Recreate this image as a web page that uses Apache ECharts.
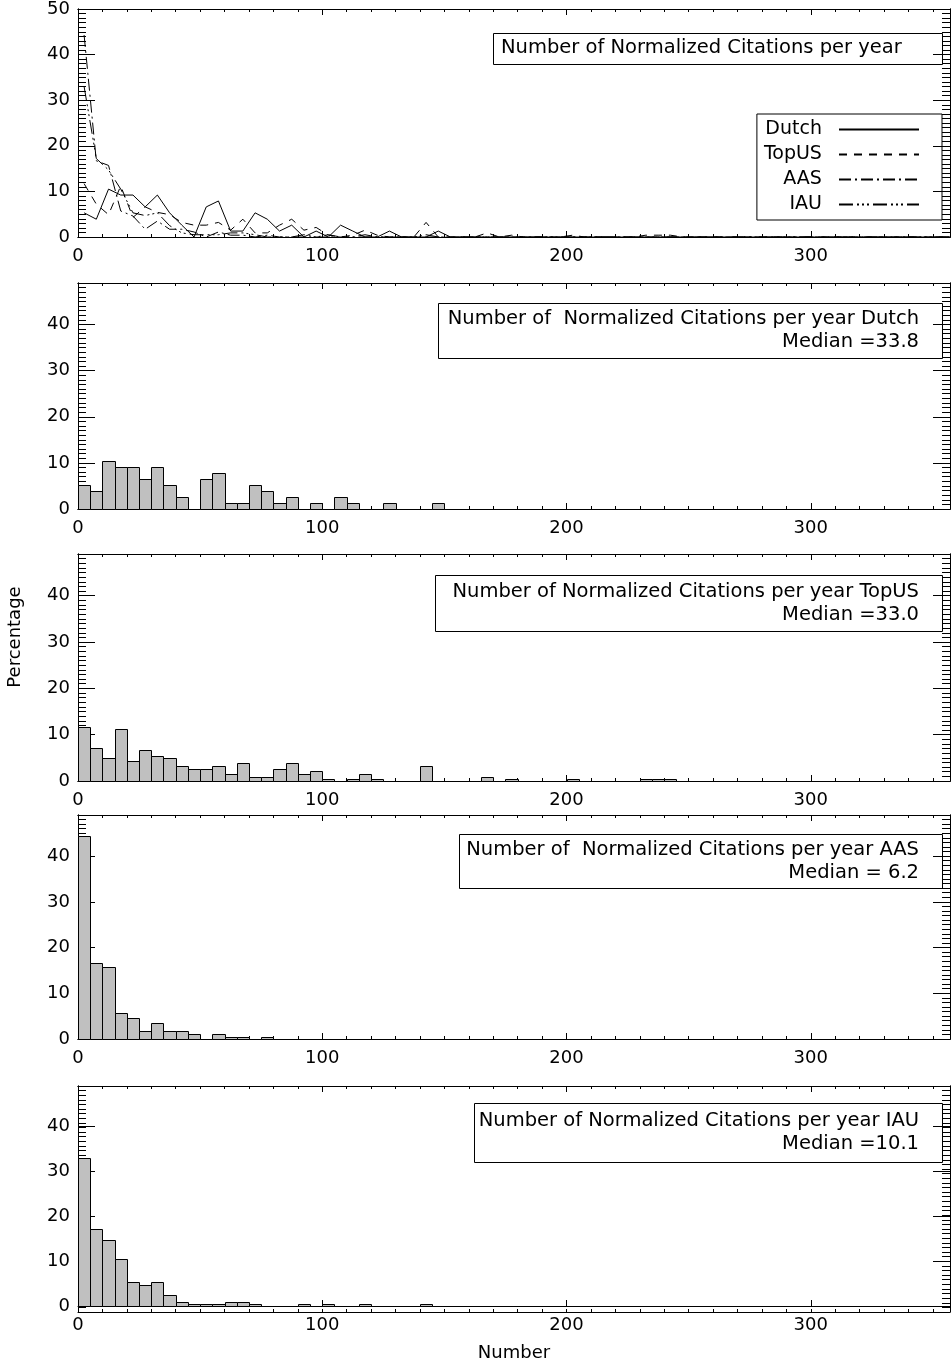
<!DOCTYPE html>
<html>
<head>
<meta charset="utf-8">
<script src="https://cdn.jsdelivr.net/npm/echarts@6/dist/echarts.min.js"></script>
<style>
  html, body { margin: 0; padding: 0; background: #fff; }
  #chart { width: 951px; height: 1363px; }
</style>
</head>
<body>
<div id="chart"></div>
<script>
// Histogram bins: 5 citations/year wide, starting at 0
const binWidth = 5;
const xMax = 357;
const xTickLabels = ['0', '100', '200', '300'];
const seriesNames = ['Dutch', 'TopUS', 'AAS', 'IAU'];
const medians = ['33.8', '33.0', ' 6.2', '10.1'];

// Percentage of papers per bin (72 bins, 0-360)
const dutch = [
  5.3, 3.9, 10.5, 9.2, 9.2, 6.6, 9.2, 5.3, 2.6, 0,
  6.6, 7.9, 1.3, 1.3, 5.3, 3.9, 1.3, 2.6, 0, 1.3,
  0, 2.6, 1.3, 0, 0, 1.3, 0, 0, 0, 1.3,
  0, 0, 0, 0, 0, 0, 0, 0, 0, 0,
  0, 0, 0, 0, 0, 0, 0, 0, 0, 0,
  0, 0, 0, 0, 0, 0, 0, 0, 0, 0,
  0, 0, 0, 0, 0, 0, 0, 0, 0, 0,
  0, 0
];
const topUS = [
  11.7, 7.2, 4.9, 11.2, 4.3, 6.6, 5.4, 4.9, 3.2, 2.6,
  2.6, 3.2, 1.5, 3.9, 0.9, 0.9, 2.6, 3.9, 1.5, 2.1,
  0.4, 0, 0.4, 1.5, 0.4, 0, 0, 0, 3.2, 0,
  0, 0, 0, 0.9, 0, 0.4, 0, 0, 0, 0,
  0.4, 0, 0, 0, 0, 0, 0.4, 0.4, 0.4, 0,
  0, 0, 0, 0, 0, 0, 0, 0, 0, 0,
  0, 0, 0, 0, 0, 0, 0, 0, 0, 0,
  0, 0
];
const aas = [
  44.3, 16.7, 15.7, 5.7, 4.6, 1.7, 3.5, 1.7, 1.7, 1.1,
  0, 1.1, 0.4, 0.4, 0, 0.4, 0, 0, 0, 0,
  0, 0, 0, 0, 0, 0, 0, 0, 0, 0,
  0, 0, 0, 0, 0, 0, 0, 0, 0, 0,
  0, 0, 0, 0, 0, 0, 0, 0, 0, 0,
  0, 0, 0, 0, 0, 0, 0, 0, 0, 0,
  0, 0, 0, 0, 0, 0, 0, 0, 0, 0,
  0, 0
];
const iau = [
  33.0, 17.2, 14.7, 10.5, 5.3, 4.7, 5.3, 2.5, 0.9, 0.5,
  0.5, 0.5, 0.9, 0.9, 0.5, 0, 0, 0, 0.5, 0,
  0.5, 0, 0, 0.5, 0, 0, 0, 0, 0.5, 0,
  0, 0, 0, 0, 0, 0, 0, 0, 0, 0,
  0, 0, 0, 0, 0, 0, 0, 0, 0, 0,
  0, 0, 0, 0, 0, 0, 0, 0, 0, 0,
  0, 0, 0, 0, 0, 0, 0, 0, 0, 0,
  0, 0
];
const allSeries = [dutch, topUS, aas, iau];

const FONT = 'DejaVu Sans';
const INK = '#000';
const FILL = '#c0c0c0';

// Panel frames: top panel compares all four, then one histogram per group
const panels = [
  { top: 9,    height: 228, yMax: 50 },
  { top: 283,  height: 226, yMax: 49 },
  { top: 554,  height: 227, yMax: 49 },
  { top: 815,  height: 224, yMax: 49 },
  { top: 1086, height: 226, yMax: 49 }
];

const dashes = ['solid', [8, 7], [12, 4, 2, 4], [14, 4, 2, 3, 2, 3, 2, 4]];

const grid = [], xAxis = [], yAxis = [], series = [];
// frame sides stay on the grid edges, not on the zero of the other axis
const frameLine = { show: true, onZero: false, lineStyle: { color: INK, width: 1 } };
const tickFont = { color: INK, fontFamily: FONT, fontSize: 18 };

// Each panel is two stacked grids sharing one frame:
// the first carries the minor ticks, the second the major ticks and labels.
panels.forEach((p, g) => {
  [false, true].forEach(major => {
    const gi = grid.length;
    grid.push({ left: 78, right: 1, top: p.top, height: p.height, containLabel: false });
    ['bottom', 'top'].forEach(pos => {
      xAxis.push({
        gridIndex: gi, type: 'value', min: 0, max: xMax, position: pos,
        interval: major ? 100 : 10,
        splitLine: { show: false }, axisLine: frameLine,
        axisTick: { show: true, inside: true, length: major ? 6 : 3, lineStyle: { color: INK } },
        axisLabel: Object.assign({
          show: major && pos === 'bottom', showMaxLabel: false, margin: 10,
          formatter: v => xTickLabels[Math.round(v / 100)] || ''
        }, tickFont),
        name: (major && pos === 'bottom' && g === panels.length - 1) ? 'Number' : '',
        nameLocation: 'middle', nameGap: 38,
        nameTextStyle: tickFont
      });
    });
    ['left', 'right'].forEach(pos => {
      yAxis.push({
        gridIndex: gi, type: 'value', min: 0, max: p.yMax, position: pos,
        interval: major ? 10 : 1,
        splitLine: { show: false }, axisLine: frameLine,
        axisTick: { show: true, inside: true, length: major ? 17 : 8, lineStyle: { color: INK } },
        axisLabel: Object.assign({
          show: major && pos === 'left', showMaxLabel: p.yMax % 10 === 0, margin: 8
        }, tickFont)
      });
    });
  });
});

// axis index of the bottom / left axis of a panel's labelled grid
const axisOf = g => (2 * g + 1) * 2;

// Top panel: the four distributions as lines through bin centres
allSeries.forEach((vals, k) => {
  series.push({
    name: seriesNames[k], type: 'line', xAxisIndex: axisOf(0), yAxisIndex: axisOf(0),
    data: vals.map((v, i) => [i * binWidth + binWidth / 2, v]),
    showSymbol: false, symbol: 'none', silent: true,
    lineStyle: { color: INK, width: 1, type: dashes[k] },
    itemStyle: { color: INK },
    animation: false
  });
});

// Lower panels: filled histograms
allSeries.forEach((vals, k) => {
  const g = k + 1;
  series.push({
    type: 'custom', xAxisIndex: axisOf(g), yAxisIndex: axisOf(g),
    data: vals.map((v, i) => [i * binWidth, v]),
    silent: true, animation: false,
    renderItem: (params, api) => {
      const start = api.value(0), h = api.value(1);
      if (!h) return null;
      const a = api.coord([start, h]);
      const b = api.coord([start + binWidth, 0]);
      const x0 = Math.round(a[0]) + 0.5, x1 = Math.round(b[0]) + 0.5;
      const y0 = Math.round(a[1]) + 0.5, y1 = Math.round(b[1]) + 0.5;
      return {
        type: 'rect',
        shape: { x: x0, y: y0, width: x1 - x0, height: y1 - y0 },
        style: { fill: FILL, stroke: INK, lineWidth: 1 }
      };
    }
  });
});

// Annotation boxes
const txt = { fill: INK, font: '19.5px "' + FONT + '"' };
function box(x, y, w, h) {
  return { type: 'rect', shape: { x: x + 0.5, y: y + 0.5, width: w, height: h },
           style: { fill: 'none', stroke: INK, lineWidth: 1 }, silent: true };
}
const graphics = [
  box(493, 33, 449, 31),
  { type: 'text', x: 501, y: 48, style: Object.assign({ text: 'Number of Normalized Citations per year',
    align: 'left', verticalAlign: 'middle' }, txt) }
];
const boxSpecs = [
  { x: 438, y: 303, w: 504, h: 55, text: 'Number of  Normalized Citations per year Dutch' },
  { x: 435, y: 575, w: 507, h: 56, text: 'Number of Normalized Citations per year TopUS' },
  { x: 459, y: 834, w: 483, h: 54, text: 'Number of  Normalized Citations per year AAS' },
  { x: 474, y: 1103, w: 468, h: 59, text: 'Number of Normalized Citations per year IAU' }
];
boxSpecs.forEach((b, k) => {
  graphics.push(box(b.x, b.y, b.w, b.h));
  const cy = b.y + b.h / 2;
  graphics.push({ type: 'text', x: 919, y: cy - 11.5,
    style: Object.assign({ text: b.text, align: 'right', verticalAlign: 'middle' }, txt) });
  graphics.push({ type: 'text', x: 919, y: cy + 11.5,
    style: Object.assign({ text: 'Median =' + medians[k], align: 'right', verticalAlign: 'middle' }, txt) });
});
graphics.push({ type: 'text', x: 15, y: 637, rotation: Math.PI / 2,
  style: { text: 'Percentage', fill: INK, font: '18px "' + FONT + '"', align: 'center', verticalAlign: 'middle' } });

const chart = echarts.init(document.getElementById('chart'), null, { renderer: 'canvas' });
chart.setOption({
  backgroundColor: '#fff',
  animation: false,
  grid, xAxis, yAxis, series,
  legend: {
    data: seriesNames, orient: 'vertical', align: 'right',
    right: 9, top: 114, itemWidth: 80, itemHeight: 14, itemGap: 6,
    padding: [6, 22, 6, 7], borderColor: INK, borderWidth: 1,
    selectedMode: false,
    formatter: name => name + '  ',
    itemStyle: { opacity: 0, borderWidth: 0 },
    textStyle: { color: INK, fontFamily: FONT, fontSize: 19 }
  },
  graphic: graphics
});
</script>
</body>
</html>
